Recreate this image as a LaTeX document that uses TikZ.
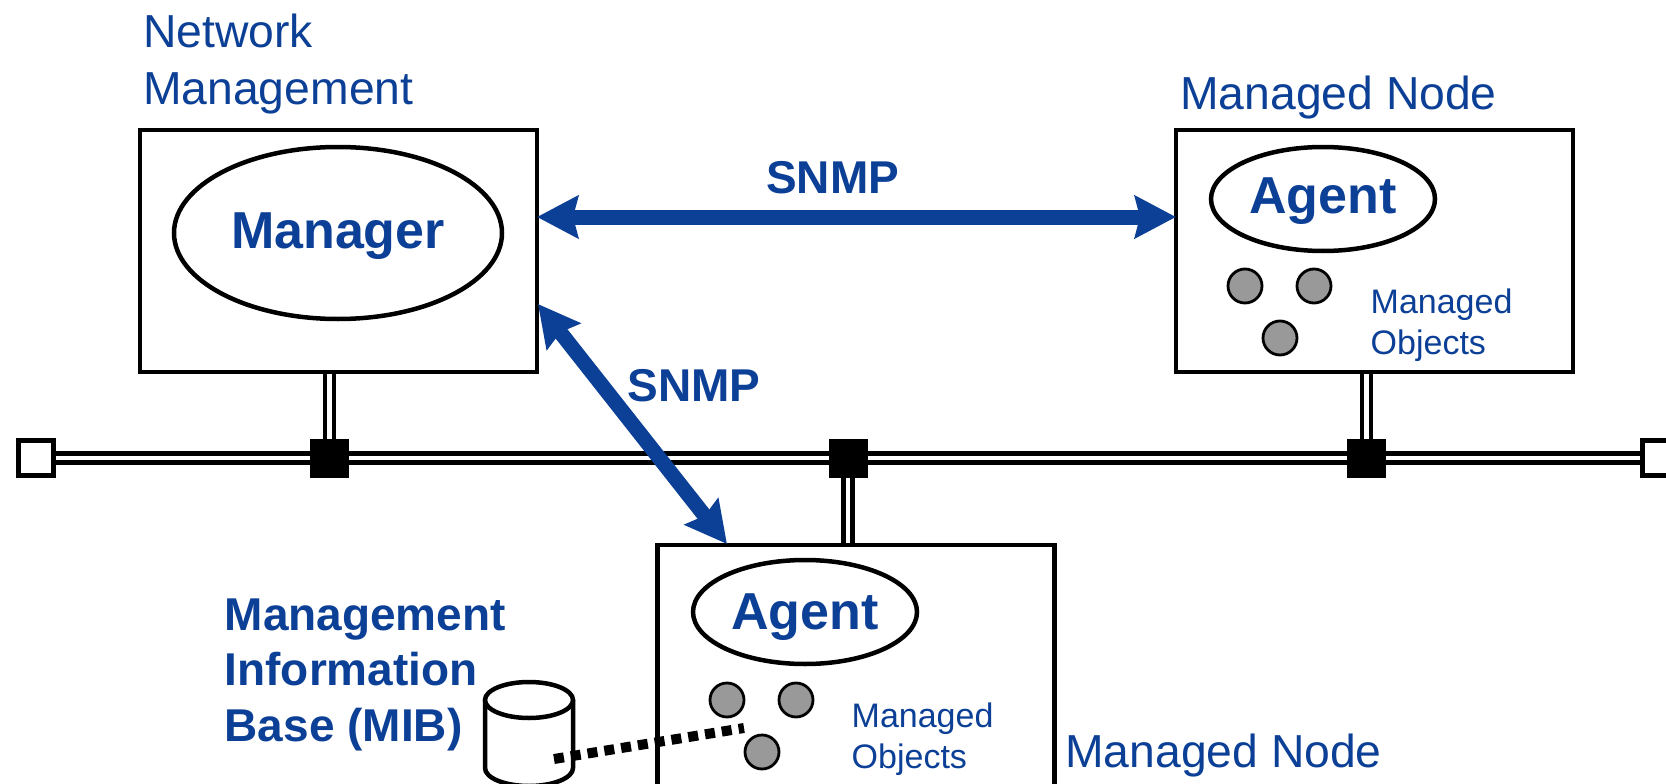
\documentclass[tikz,border=0pt]{standalone}
\usepackage{fontspec}
\setmainfont{Liberation Sans}
\usetikzlibrary{arrows.meta,shapes.geometric}
\definecolor{snmpblue}{HTML}{0C3F96}
\tikzset{
  box/.style={draw=black,line width=4.5pt,fill=white,inner sep=0pt},
  oval/.style={ellipse,draw=black,line width=4.5pt,fill=white,inner sep=0pt,text=snmpblue,text depth=11pt,font=\fontsize{52}{52}\selectfont\bfseries},
  obj/.style={circle,draw=black,line width=2.8pt,fill=black!40,minimum size=34pt,inner sep=0pt},
  tap/.style={rectangle,fill=black,draw=black,line width=1pt,minimum size=38pt,inner sep=0pt},
  endcap/.style={rectangle,fill=white,draw=black,line width=4.5pt,minimum size=35pt,inner sep=0pt},
  cable/.style={draw=black,line width=4.5pt,double=white,double distance=4.5pt},
  proto/.style={line width=15pt,draw=snmpblue,{Stealth[length=41pt,width=42pt,inset=5pt]}-{Stealth[length=41pt,width=42pt,inset=5pt]}},
  big/.style={anchor=base west,inner sep=0pt,text=snmpblue,font=\fontsize{46.3}{46.3}\selectfont},
  bigb/.style={big,font=\fontsize{46}{46}\selectfont\bfseries},
  small/.style={anchor=base west,inner sep=0pt,text=snmpblue,font=\fontsize{34}{34}\selectfont},
}
\begin{document}
\begin{tikzpicture}[x=1pt,y=-1pt]
\useasboundingbox (0,0) rectangle (1666,784);
\clip (0,0) rectangle (1666,784);
% boxes
\node[box,minimum width=397pt,minimum height=242pt] (mgrbox) at (338.5,251) {};
\node[box,minimum width=397pt,minimum height=242pt] (agtbox) at (1374.5,251) {};
\node[box,minimum width=397pt,minimum height=400pt] (midbox) at (856,745) {};
% bus
\node[endcap] (capl) at (36,458) {};
\node[tap] (tapa) at (329.5,458) {};
\node[tap] (tapb) at (848,458) {};
\node[tap] (tapc) at (1366.5,458) {};
\node[endcap] (capr) at (1660,458) {};
\draw[cable] (capl) -- (tapa);
\draw[cable] (tapa) -- (tapb);
\draw[cable] (tapb) -- (tapc);
\draw[cable] (tapc) -- (capr);
\draw[cable] (tapa.north) -- (tapa.north |- mgrbox.south);
\draw[cable] (tapc.north) -- (tapc.north |- agtbox.south);
\draw[cable] (tapb.south) -- (tapb.south |- midbox.north);
% ovals
\node[oval,text height=42pt,minimum width=328pt,minimum height=172pt] (mgr) at (338,233) {Manager};
\node[oval,text height=40pt,minimum width=224pt,minimum height=104pt] (agt) at (1323,199) {Agent};
\node[oval,text height=45pt,minimum width=224pt,minimum height=104pt] (agm) at (805,612) {Agent};
% objects
\node[obj] (o1) at (1245,286) {};
\node[obj] (o2) at (1314,286) {};
\node[obj] (o3) at (1280,338) {};
\node[obj] (o4) at (727,700) {};
\node[obj] (o5) at (796,700) {};
\node[obj] (o6) at (762,752) {};
% MIB
\draw[fill=white,line width=4.5pt,line join=round] (485,700) -- (485,768) arc[start angle=180,end angle=0,x radius=44pt,y radius=-18pt] -- (573,700);
\draw[fill=white,line width=4.5pt] (529,700) ellipse[x radius=44pt,y radius=18pt];
\coordinate (mibport) at (554,759);
\coordinate (objport) at (744,728);
\draw[line width=10pt,black,dash pattern=on 10pt off 7pt] (mibport) -- (objport);
% arrows
\coordinate (a1) at (537,217);
\coordinate (a2) at (1176,217);
\coordinate (b1) at (538,304);
\coordinate (b2) at (727,544);
\draw[proto] (a1) -- (a2);
\draw[proto] (b1) -- (b2);
% labels
\node[big] (t1) at (143,48) {Network};
\node[big] (t2) at (143,104) {Management};
\node[big] (t3) at (1180,110) {Managed Node};
\node[big] (t4) at (1065,767) {Managed Node};
\node[bigb] (s1) at (766,193.5) {SNMP};
\node[bigb] (s2) at (627.5,401.5) {SNMP};
\node[bigb] (m1) at (224.5,630) {Management};
\node[bigb] (m2) at (224.5,685) {Information};
\node[bigb] (m3) at (224.5,741) {Base (MIB)};
\node[small] (q1) at (1370.5,313) {Managed};
\node[small] (q2) at (1370.5,354) {Objects};
\node[small] (q3) at (851.5,727) {Managed};
\node[small] (q4) at (851.5,768) {Objects};
\end{tikzpicture}
\end{document}
